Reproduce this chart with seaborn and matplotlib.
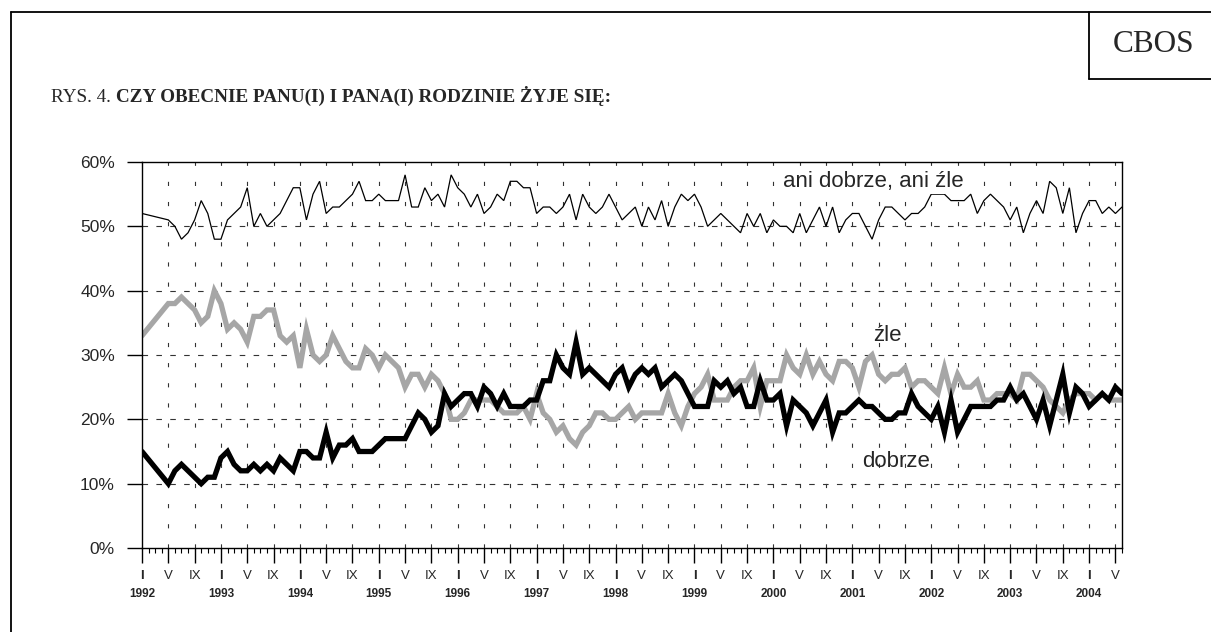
import numpy as np
import pandas as pd
import matplotlib.pyplot as plt
from matplotlib.lines import Line2D
import seaborn as sns

# miesieczne wyniki od I 1992 do VI 2004 (II-IV 1992 brak badan)
START_YEAR = 1992
LAST_YEAR = 2004
ROMAN = ["I", "V", "IX"]

ani = [52, None, None, None, 51, 50, 48, 49, 51, 54, 52, 48,
       48, 51, 52, 53, 56, 50, 52, 50, 51, 52, 54, 56,
       56, 51, 55, 57, 52, 53, 53, 54, 55, 57, 54, 54,
       55, 54, 54, 54, 58, 53, 53, 56, 54, 55, 53, 58,
       56, 55, 53, 55, 52, 53, 55, 54, 57, 57, 56, 56,
       52, 53, 53, 52, 53, 55, 51, 55, 53, 52, 53, 55,
       53, 51, 52, 53, 50, 53, 51, 54, 50, 53, 55, 54,
       55, 53, 50, 51, 52, 51, 50, 49, 52, 50, 52, 49,
       51, 50, 50, 49, 52, 49, 51, 53, 50, 53, 49, 51,
       52, 52, 50, 48, 51, 53, 53, 52, 51, 52, 52, 53,
       55, 55, 55, 54, 54, 54, 55, 52, 54, 55, 54, 53,
       51, 53, 49, 52, 54, 52, 57, 56, 52, 56, 49, 52,
       54, 54, 52, 53, 52, 53]

zle = [33, None, None, None, 38, 38, 39, 38, 37, 35, 36, 40,
       38, 34, 35, 34, 32, 36, 36, 37, 37, 33, 32, 33,
       28, 34, 30, 29, 30, 33, 31, 29, 28, 28, 31, 30,
       28, 30, 29, 28, 25, 27, 27, 25, 27, 26, 24, 20,
       20, 21, 23, 23, 23, 23, 22, 21, 21, 21, 22, 20,
       24, 21, 20, 18, 19, 17, 16, 18, 19, 21, 21, 20,
       20, 21, 22, 20, 21, 21, 21, 21, 24, 21, 19, 22,
       24, 25, 27, 23, 23, 23, 25, 26, 26, 28, 22, 26,
       26, 26, 30, 28, 27, 30, 27, 29, 27, 26, 29, 29,
       28, 25, 29, 30, 27, 26, 27, 27, 28, 25, 26, 26,
       25, 24, 28, 24, 27, 25, 25, 26, 23, 23, 24, 24,
       24, 23, 27, 27, 26, 25, 23, 22, 21, 23, 24, 24,
       24, 23, 24, 23, 23, 23]

dobrze = [15, None, None, None, 10, 12, 13, 12, 11, 10, 11, 11,
          14, 15, 13, 12, 12, 13, 12, 13, 12, 14, 13, 12,
          15, 15, 14, 14, 18, 14, 16, 16, 17, 15, 15, 15,
          16, 17, 17, 17, 17, 19, 21, 20, 18, 19, 24, 22,
          23, 24, 24, 22, 25, 24, 22, 24, 22, 22, 22, 23,
          23, 26, 26, 30, 28, 27, 32, 27, 28, 27, 26, 25,
          27, 28, 25, 27, 28, 27, 28, 25, 26, 27, 26, 24,
          22, 22, 22, 26, 25, 26, 24, 25, 22, 22, 26, 23,
          23, 24, 19, 23, 22, 21, 19, 21, 23, 18, 21, 21,
          22, 23, 22, 22, 21, 20, 20, 21, 21, 24, 22, 21,
          20, 22, 18, 23, 18, 20, 22, 22, 22, 22, 23, 23,
          25, 23, 24, 22, 20, 23, 19, 23, 27, 21, 25, 24,
          22, 23, 24, 23, 25, 24]

W, H = 1211, 632

sns.set_style("ticks")
plt.rcParams["font.family"] = ["Liberation Sans", "DejaVu Sans"]
plt.rcParams["lines.scale_dashes"] = False
plt.rcParams["lines.solid_joinstyle"] = "miter"

n = len(ani)
df = pd.DataFrame({"m": np.arange(n), "ani": ani, "zle": zle, "dobrze": dobrze})
long = df.melt(id_vars="m", var_name="seria", value_name="proc").dropna()

fig = plt.figure(figsize=(W / 100, H / 100), dpi=100)
ax = fig.add_axes([142 / W, 1 - 548 / H, 980 / W, 386 / H])

# siatka
for v in range(10, 60, 10):
    ax.axhline(v, color="#333333", lw=0.8, dashes=(4, 6), zorder=0)
for m in range(4, n, 4):
    ax.axvline(m, color="#333333", lw=0.8, dashes=(3, 11.5), zorder=0)

sns.lineplot(data=long, x="m", y="proc", hue="seria", size="seria",
             hue_order=["zle", "dobrze", "ani"],
             palette={"zle": "#a6a6a6", "dobrze": "black", "ani": "black"},
             sizes={"zle": 3.8, "dobrze": 3.8, "ani": 0.9},
             size_order=["zle", "dobrze", "ani"],
             estimator=None, legend=False, ax=ax)

ax.set_xlim(0, n - 1)
ax.set_ylim(0, 60)
ax.set_xlabel("")
ax.set_ylabel("")
for s in ax.spines.values():
    s.set_visible(True)
    s.set_color("black")
    s.set_linewidth(1.0)

ax.set_yticks(range(0, 61, 10))
ax.set_yticklabels([f"{v}%" for v in range(0, 61, 10)])
ax.tick_params(axis="y", direction="out", length=10.5, width=1, pad=9,
               labelsize=12.5, color="black")

major = list(range(0, n, 4))
ax.set_xticks(major)
ax.set_xticklabels([ROMAN[(m // 4) % 3] for m in major])
ax.set_xticks(range(n), minor=True)
ax.tick_params(axis="x", which="major", direction="out", length=10.5, width=1,
               pad=5, labelsize=9.5, color="black")
ax.tick_params(axis="x", which="minor", direction="out", length=3.6,
               width=0.8, color="black")
for lab in ax.get_xticklabels():
    if lab.get_text() == "I":
        lab.set_fontweight("bold")

for i, yr in enumerate(range(START_YEAR, LAST_YEAR + 1)):
    ax.text(i * 12, -0.12, str(yr), transform=ax.get_xaxis_transform(),
            ha="center", va="center", fontsize=8.5, fontweight="bold")

# podpisy serii
ax.text(111.2, 56.9, "ani dobrze, ani źle", ha="center", va="center",
        fontsize=16, bbox=dict(facecolor="white", edgecolor="none", pad=1))
ax.text(113.4, 33.1, "źle", ha="center", va="center", fontsize=16)
ax.text(114.7, 13.4, "dobrze", ha="center", va="center", fontsize=16)

# ramka i naglowek
lk = dict(color="black", lw=1.3, transform=fig.transFigure)
fig.add_artist(Line2D([11 / W, 11 / W], [0, 1 - 12 / H], **lk))
fig.add_artist(Line2D([11 / W, 1], [1 - 12 / H, 1 - 12 / H], **lk))
fig.add_artist(Line2D([1089 / W, 1089 / W], [1 - 12 / H, 1 - 79 / H], **lk))
fig.add_artist(Line2D([1089 / W, 1], [1 - 79 / H, 1 - 79 / H], **lk))
fig.text(1154 / W, 1 - 45 / H, "CBOS", ha="center", va="center",
         fontsize=22.5, family="Liberation Serif")

t1 = fig.text(51 / W, 1 - 102 / H, "RYS. 4.", fontsize=13.75,
              family="Liberation Serif", va="baseline")
fig.canvas.draw()
bb = t1.get_window_extent()
fig.text((bb.x1 + 5) / W, 1 - 102 / H, "CZY OBECNIE PANU(I) I PANA(I) RODZINIE ŻYJE SIĘ:",
         fontsize=13.75, family="Liberation Serif", fontweight="bold", va="baseline")

fig.savefig("out.png", dpi=100)
